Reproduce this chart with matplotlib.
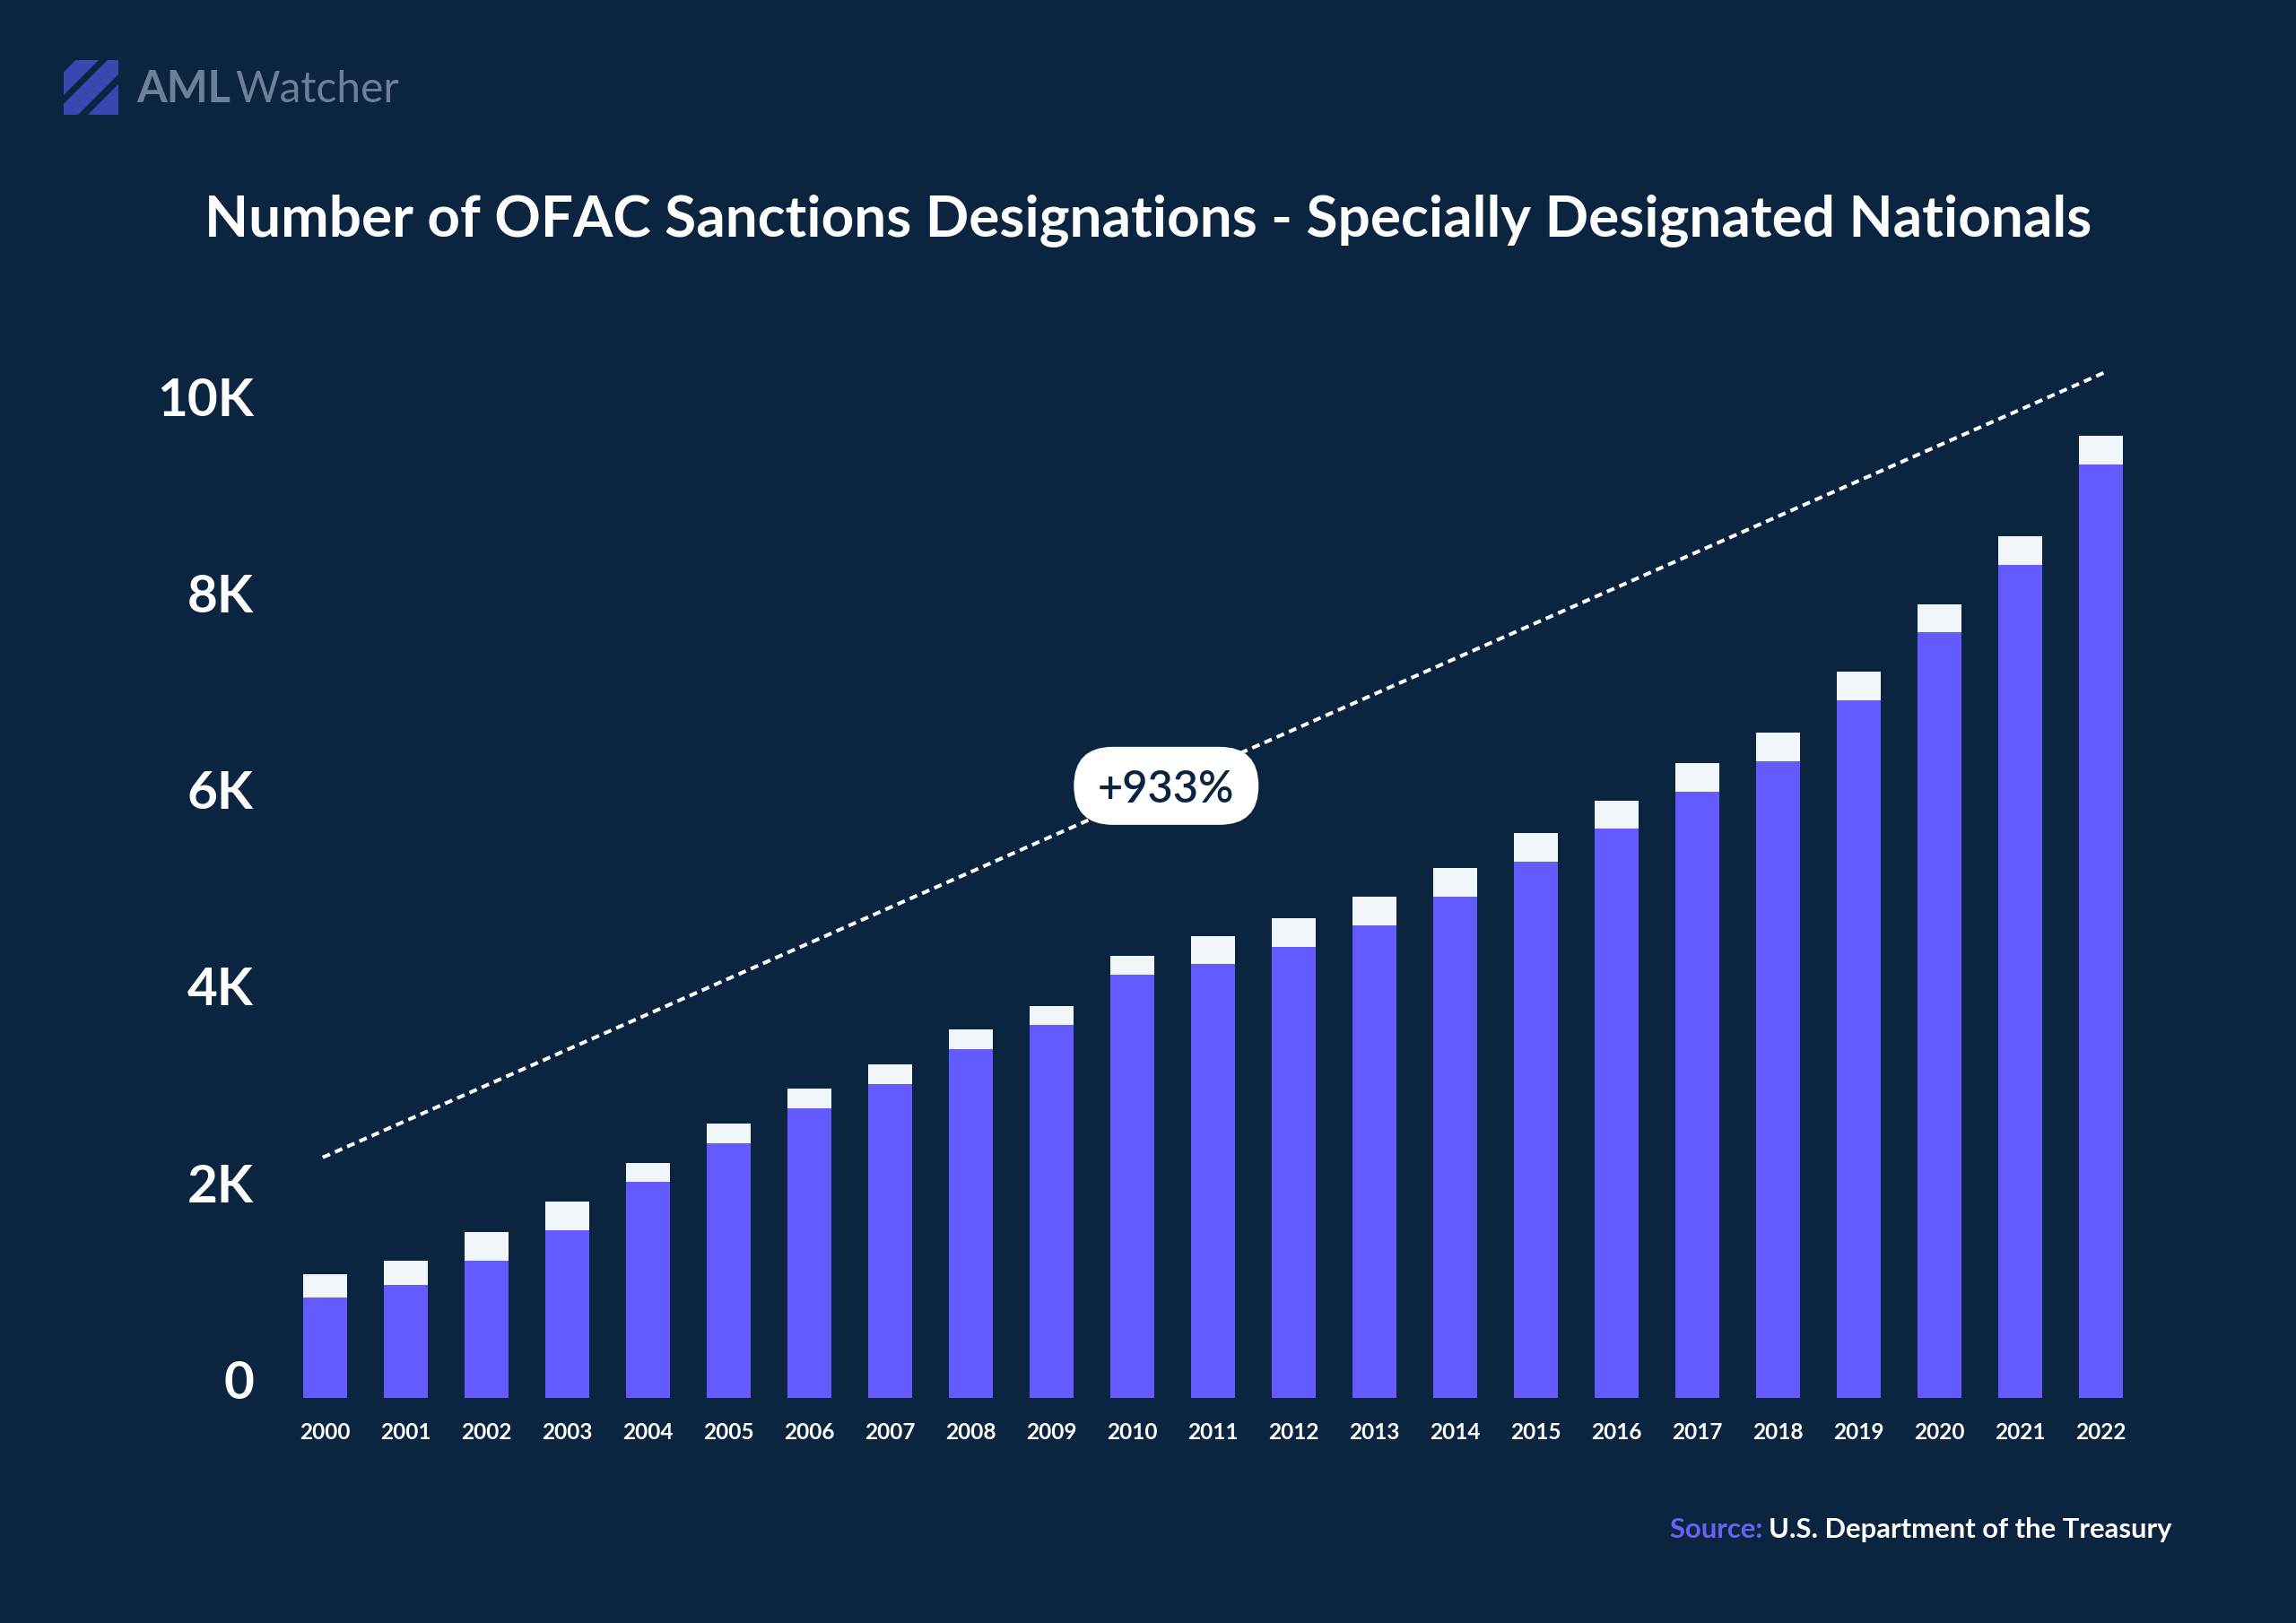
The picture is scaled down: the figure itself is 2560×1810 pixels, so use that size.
import matplotlib
matplotlib.use("Agg")
import matplotlib.pyplot as plt
import numpy as np
from matplotlib.patches import FancyBboxPatch, Polygon, Rectangle
from matplotlib.transforms import ScaledTranslation, Affine2D

# ---------------- data ----------------
years = ["2000", "2001", "2002", "2003", "2004", "2005", "2006", "2007",
         "2008", "2009", "2010", "2011", "2012", "2013", "2014", "2015",
         "2016", "2017", "2018", "2019", "2020", "2021", "2022"]
base_values = [1022, 1155, 1399, 1709, 2199, 2597, 2953, 3196, 3552, 3796,
               4307, 4416, 4595, 4814, 5103, 5459, 5797, 6171, 6484, 7101,
               7792, 8479, 9501]
total_values = [1265, 1399, 1688, 2001, 2396, 2795, 3151, 3394, 3750, 3993,
                4504, 4704, 4881, 5103, 5392, 5748, 6082, 6460, 6770, 7391,
                8078, 8768, 9790]
y_ticks = [0, 2000, 4000, 6000, 8000, 10000]
y_tick_labels = ["0", "2K", "4K", "6K", "8K", "10K"]
trend_x = [-0.03, 22.08]
trend_y = [2450, 10450]
growth_label = "+933%"
growth_label_pos = 10.42

title = "Number of OFAC Sanctions Designations - Specially Designated Nationals"
source_key = "Source:"
source_text = "U.S. Department of the Treasury"

# ---------------- style ----------------
BG = "#0B2540"
PURPLE = "#635BFF"
CAP = "#F1F6FB"
LOGO_TXT = "#6E8099"
LOGO_ICON = "#3B47B0"
SRC_PURPLE = "#6861F2"
FONT = ["Lato", "DejaVu Sans"]
plt.rcParams["font.family"] = FONT

W, H, DPI = 2560, 1810, 100
fig = plt.figure(figsize=(W / DPI, H / DPI), dpi=DPI, facecolor=BG)

px_per_cat = 90.0
px_per_k = 109.6
base_px = 1559.3
left_px = 362.5 - 0.6 * px_per_cat
ax = fig.add_axes([left_px / W, (H - base_px) / H,
                   23.2 * px_per_cat / W, 11 * px_per_k / H])
ax.set_facecolor(BG)

x = np.arange(len(years))
base = np.array(base_values)
caps = np.array(total_values) - base
ax.bar(x, base, width=0.545, color=PURPLE, zorder=2, linewidth=0)
ax.bar(x, caps, bottom=base, width=0.545, color=CAP, zorder=2, linewidth=0)

ax.set_xlim(-0.6, 22.6)
ax.set_ylim(0, 11000)
for s in ax.spines.values():
    s.set_visible(False)

ax.set_xticks(x, years)
ax.set_yticks(y_ticks, y_tick_labels)
ax.tick_params(axis="x", length=0, pad=19.5, labelsize=17.6, labelcolor="white")
ax.tick_params(axis="y", length=0, pad=18.4, labelsize=42, labelcolor="white")
for lab in ax.get_xticklabels():
    lab.set_fontweight("bold")
yoff = ScaledTranslation(0, 0.21, fig.dpi_scale_trans)
for t in ax.yaxis.get_major_ticks():
    t.label1.set_fontweight("bold")
    t.label1.set_transform(t.label1.get_transform() + yoff)

# trend line
ax.plot(trend_x, trend_y, color="white", lw=2.9,
        linestyle=(0, (2.2, 1.5)), zorder=3,
        dash_capstyle="butt")

# growth pill
cy = np.interp(growth_label_pos, trend_x, trend_y)
pill_tr = fig.dpi_scale_trans + ScaledTranslation(growth_label_pos, cy, ax.transData)
pill = FancyBboxPatch((-1.03, -0.435), 2.06, 0.87,
                      boxstyle="round,pad=0,rounding_size=0.435",
                      transform=pill_tr, facecolor="white", edgecolor="none",
                      zorder=4, clip_on=False)
ax.add_artist(pill)
ax.text(growth_label_pos, cy, growth_label, ha="center", va="center_baseline",
        fontsize=35, fontweight="semibold", color=BG, zorder=5)

# title
fig.text(0.5, 1 - 263 / H, title, ha="center", va="baseline",
         fontsize=46, fontweight="bold", color="white")

# logo
icon_tr = Affine2D().scale(61 / DPI).translate(71 / DPI, (H - 128) / DPI) + fig.dpi_scale_trans
clip = Rectangle((0, 0), 1, 1, transform=icon_tr, facecolor="none", edgecolor="none")
fig.add_artist(clip)
for a, b in [(-0.78, -0.36), (-0.2, 0.26), (0.44, 1.0)]:
    poly = Polygon([(a - 1, -1), (b - 1, -1), (b + 2, 2), (a + 2, 2)],
                   closed=True, transform=icon_tr, facecolor=LOGO_ICON,
                   edgecolor="none")
    poly.set_clip_path(clip)
    fig.add_artist(poly)
fig.text(152 / W, 1 - 114 / H, "AML", ha="left", va="baseline",
         fontsize=35, fontweight="bold", color=LOGO_TXT)
fig.text(262 / W, 1 - 114 / H, "Watcher", ha="left", va="baseline",
         fontsize=34.5, fontweight="normal", color=LOGO_TXT)

# source
t_src = fig.text(2422 / W, 1 - 1715 / H, source_text, ha="right", va="baseline",
                 fontsize=22.3, fontweight="bold", color="white")
ax.annotate(source_key + " ", xy=(0, 0), xycoords=t_src, ha="right", va="bottom",
            fontsize=22.3, fontweight="bold", color=SRC_PURPLE,
            annotation_clip=False)

fig.savefig("out.png", dpi=DPI, facecolor=BG)
